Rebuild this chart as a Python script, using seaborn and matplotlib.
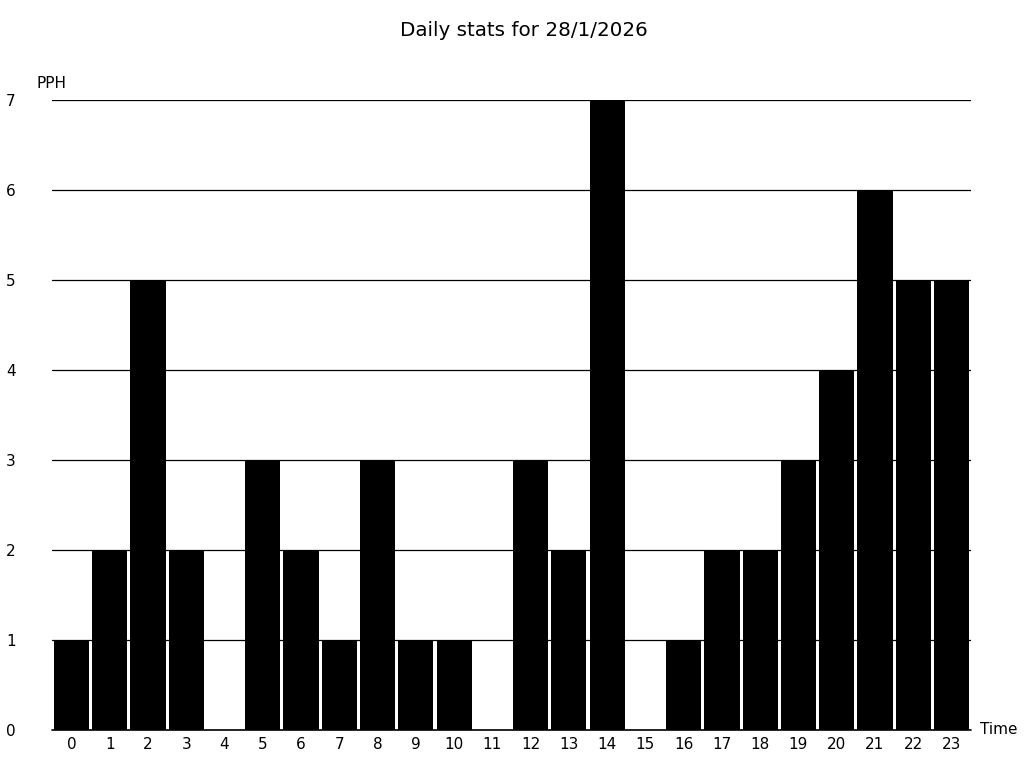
import matplotlib
matplotlib.use('Agg')
import matplotlib.pyplot as plt
import seaborn as sns
import pandas as pd

hours = list(range(24))
pph = [1, 2, 5, 2, 0, 3, 2, 1, 3, 1, 1, 0, 3, 2, 7, 0, 1, 2, 2, 3, 4, 6, 5, 5]

sns.set_style("white")
plt.rcParams['font.family'] = ['DejaVu Sans']
plt.rcParams['text.color'] = 'black'
plt.rcParams['xtick.color'] = 'black'
plt.rcParams['ytick.color'] = 'black'

df = pd.DataFrame({"hour": [str(h) for h in hours], "pph": pph})

fig = plt.figure(figsize=(10.24, 7.68), dpi=100)
ax = fig.add_axes([52 / 1024, 38 / 768, 919 / 1024, 630 / 768])

sns.barplot(data=df, x="hour", y="pph", color="black", saturation=1,
            width=0.92, linewidth=0, ax=ax, zorder=2)

ax.set_ylim(0, 7)
ax.set_xlim(-0.51, 23.51)
ax.set_yticks(range(8))
ax.yaxis.grid(True, color="black", linewidth=0.9, zorder=0)
ax.axhline(0, color="black", linewidth=1.2, zorder=1, clip_on=False)
ax.set_axisbelow(True)
for s in ax.spines.values():
    s.set_visible(False)
ax.tick_params(axis="y", length=0, pad=33, labelsize=11, labelcolor="black")
ax.tick_params(axis="x", length=0, pad=5, labelsize=11, labelcolor="black")
for lbl in ax.get_yticklabels():
    lbl.set_horizontalalignment("left")
ax.set_xlabel("")
ax.set_ylabel("")

fig.text(37 / 1024, 1 - 84 / 768, "PPH", fontsize=11, va="center", ha="left", color="black")
fig.text(980 / 1024, 1 - 730 / 768, "Time", fontsize=11, va="center", ha="left", color="black")
fig.suptitle("Daily stats for 28/1/2026", x=524 / 1024, y=1 - 31 / 768, va="center",
             fontsize=14.3, color="black")

fig.savefig("out.png", dpi=100)
